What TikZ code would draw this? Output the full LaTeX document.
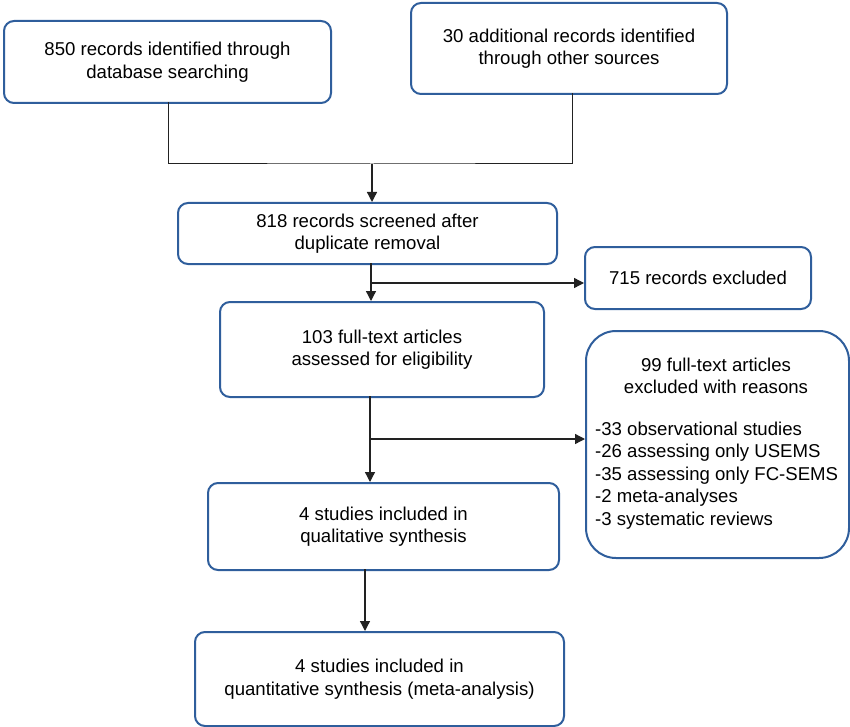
\documentclass[tikz,border=0pt]{standalone}
\usepackage{fontspec}
\setmainfont{Liberation Sans}
\usetikzlibrary{arrows.meta}
\definecolor{boxblue}{HTML}{2F5E9C}
\definecolor{linegray}{HTML}{222222}
\begin{document}
\begin{tikzpicture}[x=1pt,y=-1pt,
  txt/.style={font=\fontsize{18.6}{22.5}\selectfont},
  box/.style={draw=boxblue,line width=2pt,rounded corners=10pt,fill=white,inner sep=0pt,align=center,txt,anchor=north west},
  conn/.style={draw=linegray,line width=1.3pt},
  arr/.style={conn,-{Triangle[length=10pt,width=10pt]}}]
\useasboundingbox (0,0) rectangle (850,727);
\node[box,minimum width=327pt,minimum height=82pt] (a) at (3,20) {850 records identified through\\database searching};
\node[box,minimum width=316pt,minimum height=91pt] (b) at (410,2) {30 additional records identified\\through other sources};
\node[box,minimum width=379pt,minimum height=61pt] (c) at (177,202) {818 records screened after\\duplicate removal};
\node[box,minimum width=226pt,minimum height=62pt] (d) at (584,246) {715 records excluded};
\node[box,minimum width=324pt,minimum height=95pt] (e) at (219,301) {103 full-text articles\\assessed for eligibility};
\node[box,minimum width=263pt,minimum height=227pt,rounded corners=30pt] (f) at (585,330) {};
\node[anchor=base,txt,align=center,inner sep=0pt] (ft) at (716,393.5) {99 full-text articles\\excluded with reasons};
\node[anchor=base west,txt,align=left,inner sep=0pt] (fl) at (595,525) {-33 observational studies\\-26 assessing only USEMS\\-35 assessing only FC-SEMS\\-2 meta-analyses\\-3 systematic reviews};
\node[box,minimum width=351pt,minimum height=87pt] (g) at (207,482) {4 studies included in\\ qualitative synthesis};
\node[box,minimum width=369pt,minimum height=94pt] (h) at (194,631) {4 studies included in\\quantitative synthesis (meta-analysis)};
\coordinate (m) at (372,164);
\draw[conn,line width=1pt] (168,102) |- (m) -| (572,93);
\draw[arr] (m) -- (c.north -| m);
\coordinate (j1) at (371,283);
\draw[arr] (371,263) -- (e.north -| j1);
\draw[arr] (j1) -- (d.west |- j1);
\coordinate (j2) at (370,439);
\draw[arr] (370,396) -- (g.north -| j2);
\draw[arr] (j2) -- (f.west |- j2);
\draw[arr] (365,569) -- (h.north -| 365,0);
\end{tikzpicture}
\end{document}
